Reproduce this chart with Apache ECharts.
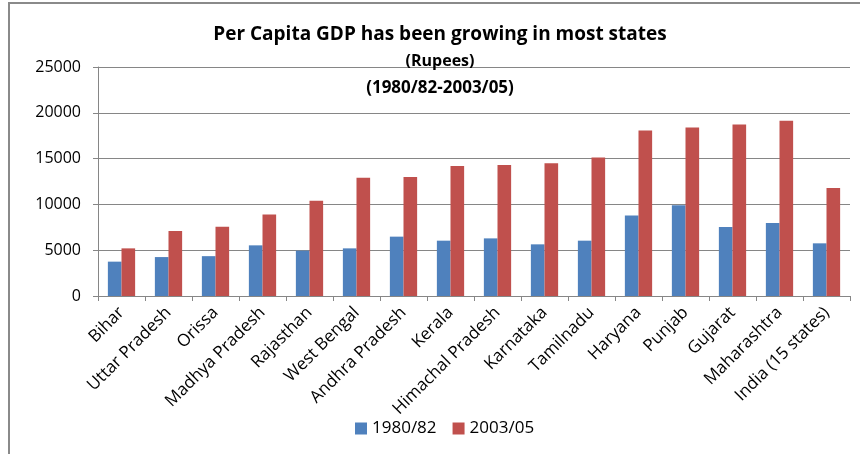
<!DOCTYPE html>
<html>
<head>
<meta charset="utf-8">
<script src="https://cdn.jsdelivr.net/npm/echarts@6/dist/echarts.min.js"></script>
<style>
  html, body { margin: 0; padding: 0; background: #fff; }
  #chart { width: 860px; height: 454px; }
</style>
</head>
<body>
<div id="chart"></div>
<script>
// Per capita GDP by state, rupees
const states = ['Bihar', 'Uttar Pradesh', 'Orissa', 'Madhya Pradesh', 'Rajasthan', 'West Bengal',
  'Andhra Pradesh', 'Kerala', 'Himachal Pradesh', 'Karnataka', 'Tamilnadu', 'Haryana',
  'Punjab', 'Gujarat', 'Maharashtra', 'India (15 states)'];
const gdp1980 = [3750, 4250, 4350, 5530, 4950, 5200, 6480, 6040, 6290, 5640, 6040, 8800, 9900, 7530, 7960, 5750];
const gdp2003 = [5200, 7100, 7550, 8900, 10400, 12900, 13000, 14200, 14300, 14480, 15130, 18070, 18400, 18730, 19130, 11780];
const seriesNames = ['1980/82', '2003/05'];
const yTicks = { min: 0, max: 25000, interval: 5000 };
const titleLines = ['Per Capita GDP has been growing in most states', '(Rupees)', '(1980/82-2003/05)'];

const FONT = '"Open Sans", sans-serif';
const chart = echarts.init(document.getElementById('chart'), null, { renderer: 'canvas' });

function headingText(text, y, size) {
  return {
    type: 'text', silent: true, z: 50, x: 440, y: y,
    style: { text: text, fill: '#000', align: 'center', verticalAlign: 'middle',
      font: 'bold ' + size + 'px ' + FONT }
  };
}

chart.setOption({
  animation: false,
  backgroundColor: '#ffffff',
  textStyle: { fontFamily: FONT },
  graphic: [
    { type: 'polyline', silent: true, z: 100,
      shape: { points: [[9, 454], [9, 3], [860, 3]] },
      style: { stroke: '#8a8a8a', lineWidth: 2, fill: null } },
    headingText(titleLines[0], 35, 19),
    headingText(titleLines[1], 61, 16),
    headingText(titleLines[2], 88, 17)
  ],
  legend: {
    data: seriesNames,
    left: 355, top: 420, padding: 0,
    itemWidth: 12, itemHeight: 12, itemGap: 16,
    icon: 'rect',
    textStyle: { fontFamily: FONT, fontSize: 17, color: '#000' }
  },
  grid: { left: 98, right: 10, top: 67, bottom: 158, containLabel: false },
  xAxis: {
    type: 'category',
    data: states,
    axisLine: { lineStyle: { color: '#868686', width: 1 } },
    axisTick: { show: true, length: 5, lineStyle: { color: '#868686' } },
    axisLabel: { rotate: 45, interval: 0, margin: 14, fontFamily: FONT, fontSize: 17, color: '#000' }
  },
  yAxis: {
    type: 'value',
    min: yTicks.min, max: yTicks.max, interval: yTicks.interval,
    axisLine: { show: true, lineStyle: { color: '#868686', width: 1 } },
    axisTick: { show: true, length: 5, lineStyle: { color: '#868686' } },
    axisLabel: { margin: 17, fontFamily: FONT, fontSize: 16, color: '#000',
      formatter: function (v) { return String(v); } },
    splitLine: { lineStyle: { color: '#868686', width: 1 } }
  },
  series: [
    { name: seriesNames[0], type: 'bar', data: gdp1980, barGap: '0%', barCategoryGap: '42%',
      itemStyle: { color: '#4F81BD' } },
    { name: seriesNames[1], type: 'bar', data: gdp2003, barGap: '0%', barCategoryGap: '42%',
      itemStyle: { color: '#C0504D' } }
  ]
});
</script>
</body>
</html>
